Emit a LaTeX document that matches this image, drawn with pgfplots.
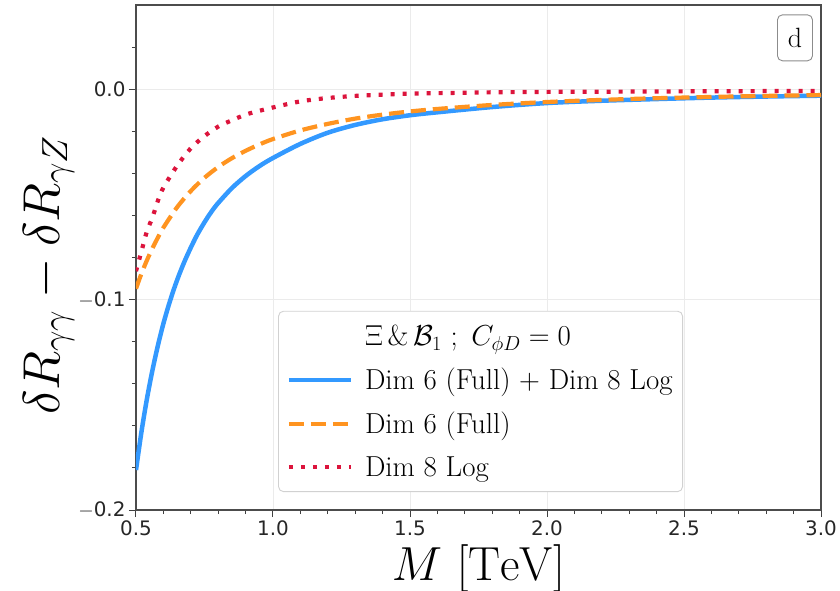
\RequirePackage{fix-cm}
\documentclass[border=0pt]{standalone}
\usepackage{fontspec}
\usepackage{pgfplots}
\pgfplotsset{compat=1.18}
\newfontfamily\dejavu{DejaVu Sans}
\definecolor{cblue}{RGB}{51,153,255}
\definecolor{corange}{RGB}{255,148,32}
\definecolor{cred}{RGB}{220,20,60}
\begin{document}
\begin{tikzpicture}
\path[use as bounding box] (-136bp,-81bp) rectangle (704bp,510bp);
\begin{axis}[
  scale only axis, width=685bp, height=505bp,
  at={(0bp,0bp)}, anchor=south west,
  xmin=0.5, xmax=3.0, ymin=-0.2, ymax=0.04,
  xtick={0.5,1.0,1.5,2.0,2.5,3.0},
  xticklabels={0.5,1.0,1.5,2.0,2.5,3.0},
  ytick={-0.2,-0.1,0},
  yticklabels={{$-$0.2},{$-$0.1},0.0},
  minor xtick={0.6,0.7,0.8,0.9,1.1,1.2,1.3,1.4,1.6,1.7,1.8,1.9,2.1,2.2,2.3,2.4,2.6,2.7,2.8,2.9},
  minor ytick={-0.18,-0.16,-0.14,-0.12,-0.08,-0.06,-0.04,-0.02,0.02},
  xtick pos=bottom, ytick pos=left,
  tick align=outside,
  major tick length=7bp, minor tick length=4bp,
  every tick/.style={black!75, line width=1bp},
  xmajorgrids, ymajorgrids,
  major grid style={black!8, line width=0.9bp},
  axis line style={black!70, line width=1.2bp},
  tick label style={font=\dejavu\fontsize{20}{20}\selectfont, text=black!85},
  xlabel={$M\ [\mathrm{TeV}]$},
  ylabel={$\delta R_{\gamma\gamma}-\delta R_{\gamma Z}$},
  xlabel style={font=\fontsize{48}{48}\selectfont, at={(axis description cs:0.5,0)}, anchor=base, yshift=-70bp},
  ylabel style={font=\fontsize{52}{52}\selectfont, at={(axis description cs:-0.112,0.465)}, anchor=base},
  legend style={at={(axis description cs:0.503,0.215)}, anchor=center,
    draw=black!18, rounded corners=5bp, fill=white, line width=0.9bp,
    font=\fontsize{29}{34}\selectfont, inner xsep=8bp, inner ysep=12bp,
    row sep=17bp, /tikz/every odd column/.append style={column sep=10bp}},
  legend cell align=left,
  legend image code/.code={\draw[#1] (0bp,0bp) -- (62bp,0bp);},
]
\addlegendimage{empty legend}
\addlegendentry{$\Xi\,\&\,\mathcal{B}_1\ ;\ C_{\phi D}=0$}

\addplot[cblue, line width=4.5bp, smooth] coordinates {
(0.50,-0.1810) (0.52,-0.1628) (0.54,-0.1471) (0.56,-0.1336) (0.58,-0.1218)
(0.60,-0.1114) (0.62,-0.1024) (0.64,-0.0944) (0.66,-0.0873) (0.68,-0.0810)
(0.70,-0.0753) (0.72,-0.0700) (0.74,-0.0654) (0.76,-0.0612) (0.78,-0.0574)
(0.80,-0.0541) (0.85,-0.0470) (0.90,-0.0413) (0.95,-0.0366) (1.00,-0.0327)
(1.10,-0.0260) (1.20,-0.0207) (1.30,-0.0170) (1.40,-0.0143) (1.50,-0.0124)
(1.60,-0.0110) (1.80,-0.0085) (2.00,-0.0066) (2.20,-0.0055) (2.40,-0.0047)
(2.60,-0.0040) (2.80,-0.0035) (3.00,-0.0031)};
\addlegendentry{Dim 6 (Full) + Dim 8 Log}

\addplot[corange, line width=4.2bp, dash pattern=on 15bp off 7bp, smooth] coordinates {
(0.50,-0.0948) (0.52,-0.0876) (0.54,-0.0813) (0.56,-0.0756) (0.58,-0.0705)
(0.60,-0.0658) (0.65,-0.0561) (0.70,-0.0484) (0.75,-0.0421) (0.80,-0.0370)
(0.85,-0.0328) (0.90,-0.0293) (0.95,-0.0263) (1.00,-0.0237) (1.10,-0.0196)
(1.20,-0.0165) (1.30,-0.0140) (1.40,-0.0121) (1.50,-0.0106) (1.60,-0.0094)
(1.80,-0.0075) (2.00,-0.0061) (2.20,-0.0051) (2.40,-0.0043) (2.60,-0.0037)
(2.80,-0.0032) (3.00,-0.0028)};
\addlegendentry{Dim 6 (Full)}

\addplot[cred, line width=4.2bp, dash pattern=on 4bp off 8bp, smooth] coordinates {
(0.50,-0.0865) (0.52,-0.0770) (0.54,-0.0675) (0.56,-0.0610) (0.58,-0.0530)
(0.60,-0.0468) (0.65,-0.0364) (0.70,-0.0281) (0.75,-0.0223) (0.80,-0.0178)
(0.85,-0.0148) (0.90,-0.0121) (0.95,-0.0103) (1.00,-0.0087) (1.10,-0.0058)
(1.20,-0.0042) (1.30,-0.0032) (1.40,-0.0026) (1.50,-0.0021) (1.60,-0.0019)
(1.80,-0.0015) (2.00,-0.0013) (2.20,-0.0012) (2.40,-0.0011) (2.60,-0.0010)
(2.80,-0.0009) (3.00,-0.0008)};
\addlegendentry{Dim 8 Log}

\node[draw=black!45, rounded corners=5bp, fill=white, line width=0.9bp,
  minimum width=35bp, minimum height=46bp, inner sep=0pt,
  font=\fontsize{28}{28}\selectfont] at (rel axis cs:0.962,0.935) {d};
\end{axis}
\end{tikzpicture}
\end{document}
